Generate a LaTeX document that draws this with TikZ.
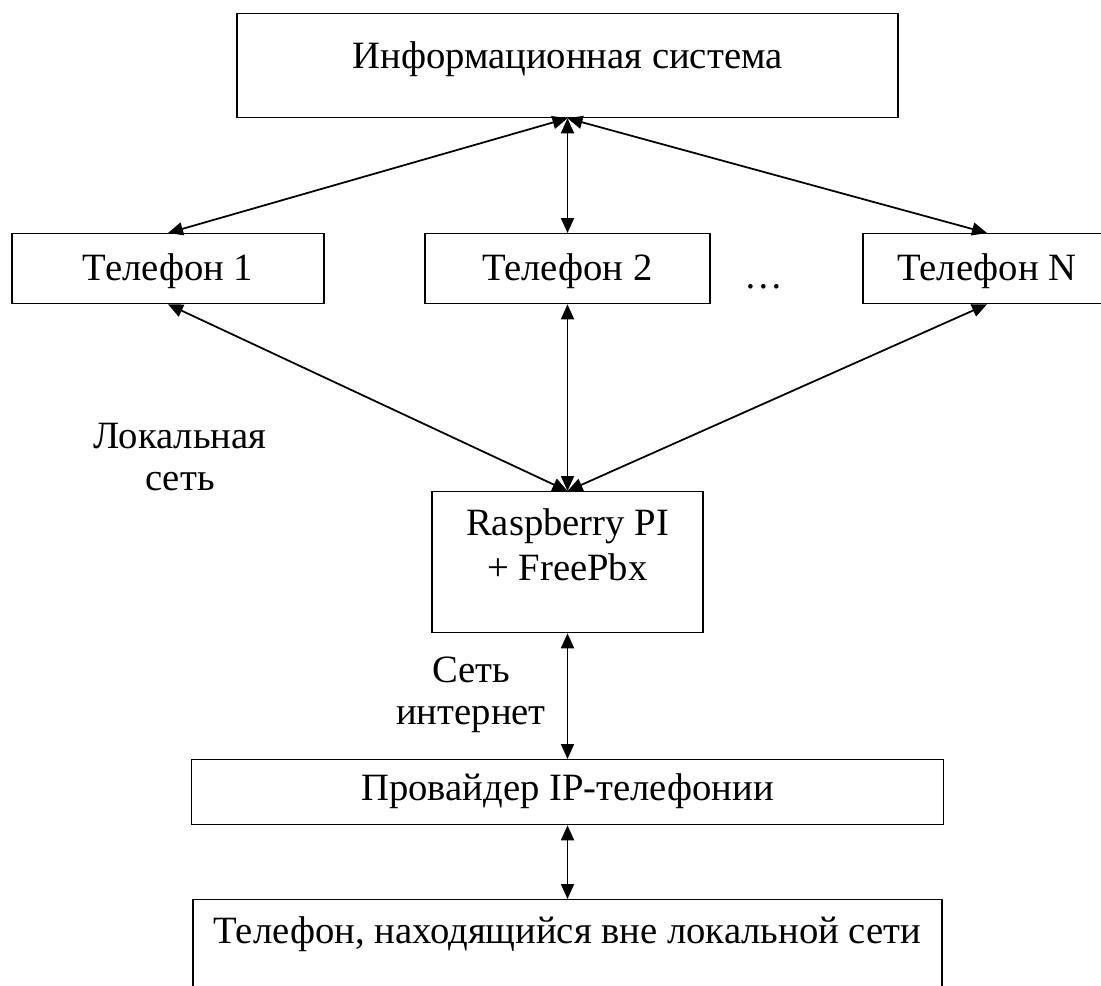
\documentclass[tikz,border=0pt]{standalone}
\usepackage{fontspec}
\setmainfont{Liberation Serif}
\usetikzlibrary{arrows.meta}

\begin{document}
\begin{tikzpicture}[x=0.02cm, y=-0.02cm,
  box/.style={draw, line width=0.75pt, inner sep=0pt, align=flush center, font=\fontsize{22}{25.5}\selectfont},
  link/.style={{Triangle[length=0.3cm,width=0.26cm]}-{Triangle[length=0.3cm,width=0.26cm]}, line width=1pt},
  lbl/.style={align=flush center, inner sep=0pt, font=\fontsize{22}{24}\selectfont}]
\clip (0,0) rectangle (1101,986);
% information system
\node[box, anchor=north, text width=13.22cm, text height=1.1cm, text depth=0.98cm] (info) at (567.5,13) {Информационная система};
% phones in the local network
\node[box, anchor=north, text width=6.24cm, text height=0.94cm, text depth=0.46cm] (tel1) at (168,233) {Телефон 1};
\node[box, anchor=north, text width=5.7cm, text height=0.94cm, text depth=0.46cm] (tel2) at (567.5,233) {Телефон 2};
\node[lbl, anchor=base] (dots) at (764,289) {…};
\node[box, anchor=north, text width=4.96cm, text height=0.94cm, text depth=0.46cm] (telN) at (987,233) {Телефон N};
\draw[link](info.south) -- (tel1.north);
\draw[link](info.south) -- (tel2.north);
\draw[link](info.south) -- (telN.north);
% pbx
\node[box, anchor=north, text width=5.42cm, text height=0.88cm, text depth=1.94cm] (rpi) at (567.5,491) {Raspberry PI\\+ FreePbx};
\node[lbl, anchor=base, text width=4cm] (lan) at (180,448) {Локальная\\сеть};
\draw[link](tel1.south) -- (rpi.north);
\draw[link](tel2.south) -- (rpi.north);
\draw[link](telN.south) -- (rpi.north);
% provider and outside phone
\node[box, anchor=north, text width=15.04cm, text height=0.82cm, text depth=0.48cm] (prov) at (567.5,759) {Провайдер IP-телефонии};
\node[lbl, anchor=base, text width=3.5cm] (wan) at (471,682) {Сеть\\интернет};
\node[box, anchor=north, text width=14.98cm, text height=0.88cm, text depth=1.5cm] (ext) at (567.5,899) {Телефон, находящийся вне локальной сети};
\draw[link](rpi.south) -- (prov.north);
\draw[link](prov.south) -- (ext.north);
\end{tikzpicture}
\end{document}
